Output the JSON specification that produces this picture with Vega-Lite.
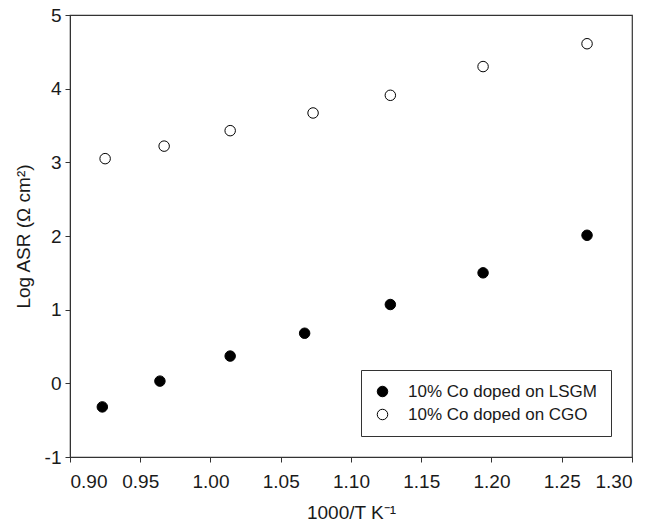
{
  "$schema": "https://vega.github.io/schema/vega-lite/v6.json",
  "width": 562,
  "height": 442,
  "autosize": "none",
  "padding": {"left": 70, "top": 15, "right": 18, "bottom": 69},
  "background": "white",
  "config": {
    "font": "Liberation Sans",
    "view": {"stroke": "#333", "strokeWidth": 1.2},
    "axis": {
      "grid": false,
      "domainColor": "#333",
      "tickColor": "#333",
      "tickSize": 5,
      "labelFont": "Liberation Sans",
      "labelFontSize": 19,
      "labelColor": "#1a1a1a",
      "titleFont": "Liberation Sans",
      "titleFontSize": 19,
      "titleFontWeight": "normal",
      "titleColor": "#1a1a1a"
    }
  },
  "data": {
    "values": [
      {"x": 0.923, "y": -0.32, "series": "10% Co doped on LSGM"},
      {"x": 0.964, "y": 0.03, "series": "10% Co doped on LSGM"},
      {"x": 1.014, "y": 0.37, "series": "10% Co doped on LSGM"},
      {"x": 1.067, "y": 0.68, "series": "10% Co doped on LSGM"},
      {"x": 1.128, "y": 1.07, "series": "10% Co doped on LSGM"},
      {"x": 1.194, "y": 1.50, "series": "10% Co doped on LSGM"},
      {"x": 1.268, "y": 2.01, "series": "10% Co doped on LSGM"},
      {"x": 0.925, "y": 3.05, "series": "10% Co doped on CGO"},
      {"x": 0.967, "y": 3.22, "series": "10% Co doped on CGO"},
      {"x": 1.014, "y": 3.43, "series": "10% Co doped on CGO"},
      {"x": 1.073, "y": 3.67, "series": "10% Co doped on CGO"},
      {"x": 1.128, "y": 3.91, "series": "10% Co doped on CGO"},
      {"x": 1.194, "y": 4.30, "series": "10% Co doped on CGO"},
      {"x": 1.268, "y": 4.61, "series": "10% Co doped on CGO"}
    ]
  },
  "mark": {"type": "circle", "size": 110, "stroke": "black", "strokeWidth": 1, "opacity": 1},
  "encoding": {
    "x": {
      "field": "x", "type": "quantitative",
      "scale": {"domain": [0.9, 1.3], "nice": false, "zero": false},
      "axis": {"values": [0.9, 0.95, 1.0, 1.05, 1.1, 1.15, 1.2, 1.25, 1.3], "format": ".2f", "labelPadding": 10, "title": "1000/T K⁻¹", "titlePadding": 12}
    },
    "y": {
      "field": "y", "type": "quantitative",
      "scale": {"domain": [-1, 5], "nice": false, "zero": false},
      "axis": {"values": [-1, 0, 1, 2, 3, 4, 5], "labelExpr": "replace(datum.label, '−', '-')", "labelPadding": 4, "title": "Log ASR (Ω cm²)", "titlePadding": 11}
    },
    "fill": {
      "field": "series", "type": "nominal",
      "scale": {"domain": ["10% Co doped on LSGM", "10% Co doped on CGO"], "range": ["black", "white"]},
      "legend": {
        "title": null,
        "orient": "none",
        "legendX": 291,
        "legendY": 355,
        "direction": "vertical",
        "symbolType": "circle",
        "symbolSize": 110,
        "symbolStrokeColor": "black",
        "symbolStrokeWidth": 1,
        "symbolOpacity": 1,
        "labelFont": "Liberation Sans",
        "labelFontSize": 17,
        "labelColor": "#1a1a1a",
        "labelOffset": 17,
        "labelLimit": 300,
        "rowPadding": 5,
        "padding": 13,
        "strokeColor": "#333",
        "fillColor": "white"
      }
    }
  }
}
